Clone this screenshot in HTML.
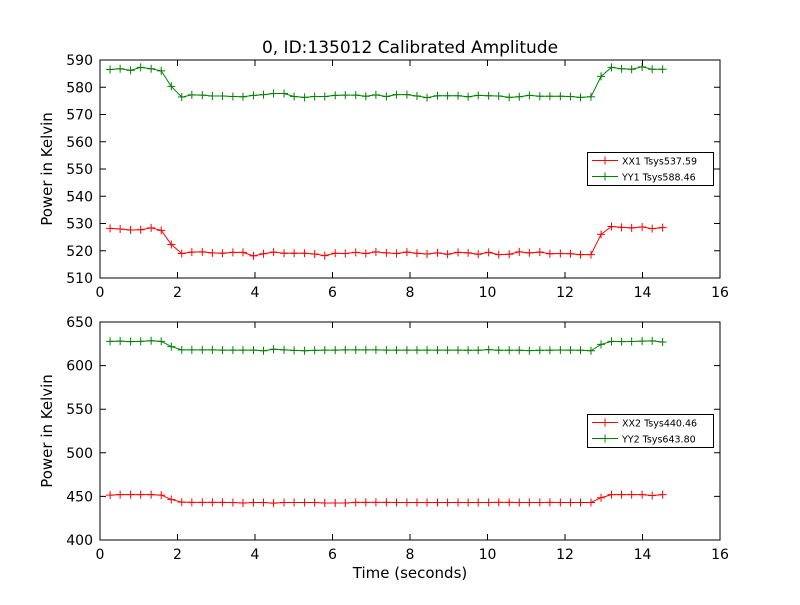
<!DOCTYPE html>
<html><head><meta charset="utf-8"><style>
body{margin:0;background:#fff}
text{font-family:"DejaVu Sans","Liberation Sans",sans-serif}
</style></head><body>
<svg id="c" width="800" height="600" xmlns="http://www.w3.org/2000/svg">
<rect width="800" height="600" fill="#fff"/>
<text x="410" y="53" font-size="17" text-anchor="middle">0, ID:135012 Calibrated Amplitude</text>
<text x="410" y="578" font-size="15" text-anchor="middle">Time (seconds)</text>
<g id="g"></g>
</svg>
<script>
const times=[0.26,0.52,0.79,1.05,1.32,1.58,1.84,2.11,2.37,2.64,2.90,3.16,3.43,3.69,3.96,4.22,4.48,4.75,5.01,5.28,5.54,5.80,6.07,6.33,6.60,6.86,7.12,7.39,7.65,7.92,8.18,8.44,8.71,8.97,9.24,9.50,9.76,10.03,10.29,10.56,10.82,11.08,11.35,11.61,11.88,12.14,12.40,12.67,12.93,13.20,13.46,13.72,13.99,14.25,14.52];
const xx1=[528.2,528,527.6,527.7,528.4,527.5,522.3,519,519.5,519.6,519.2,519.1,519.4,519.4,518.1,518.9,519.5,519.1,519.1,519.1,518.8,518.2,519.1,519.0,519.4,519.0,519.6,519.2,519.0,519.5,519.1,518.8,519.2,518.7,519.4,519.2,518.7,519.4,518.6,518.7,519.6,519.2,519.5,518.9,519.0,518.9,518.6,518.6,526,528.9,528.6,528.4,528.7,528.1,528.5];
const yy1=[586.5,586.8,586.2,587.3,586.8,586,580.3,576.4,577.2,577.1,576.8,576.8,576.6,576.5,577.0,577.3,577.7,577.7,576.6,576.3,576.6,576.6,577.0,577.1,577.1,576.7,577.2,576.6,577.3,577.3,576.8,576.2,576.9,576.9,576.9,576.5,577.0,576.9,576.8,576.3,576.5,577.0,576.7,576.7,576.7,576.6,576.3,576.5,584,587.3,586.8,586.6,587.5,586.6,586.6];
const xx2=[451.5,452,452,452,452,451.5,446.5,443.5,443.2,443.2,443.2,443.2,443,442.5,443,443,442.3,443,443,443,443,442.4,442.4,442.5,443.1,443.1,443.1,443.2,443,443,443,443,443,443,443,443,443,443,443.2,443.1,443,443,443,443.1,443,443,443,443,448.5,452,452,452,452,451,452];
const yy2=[627.8,628,627.5,627.8,628.5,627.8,621.8,618,618,618,618,617.8,617.8,617.7,617.8,617,618.7,618,617.5,617,617.5,617.7,617.8,618,618,618,618,617.8,617.8,617.8,617.8,617.8,617.7,617.8,617.8,617.6,617.6,618.3,617.6,617.6,617.6,617.2,617.6,617.6,617.9,617.8,617.6,617,624.3,627.8,627.5,627.6,628,628.3,627];
const xTicks=[0,2,4,6,8,10,12,14,16];
const topYTicks=[510,520,530,540,550,560,570,580,590];
const botYTicks=[400,450,500,550,600,650];
const NS="http://www.w3.org/2000/svg";
const G=document.getElementById('g');
function mk(t,a,p){const e=document.createElementNS(NS,t);for(const k in a)e.setAttribute(k,a[k]);(p||G).appendChild(e);return e;}
function panel(top,bot,ymin,ymax,yt,s1,s2,n1,n2,name){
  const L=100,R=720;
  const xs=v=>L+(v-0)/16*(R-L);
  const ys=v=>bot-(v-ymin)/(ymax-ymin)*(bot-top);
  const g=mk('g',{});
  
  
  [[s1,'#ff0000',n1],[s2,'#008000',n2]].forEach(([s,c,n])=>{
    const pts=s.map((v,i)=>xs(times[i])+','+ys(v)).join(' ');
    const pl=mk('polyline',{points:pts,fill:'none',stroke:c,'stroke-width':1},g);
    
    
    s.forEach((v,i)=>{const x=xs(times[i]),y=ys(v);
      const m=mk('path',{d:`M${x-4},${y}H${x+4}M${x},${y-4}V${y+4}`,stroke:c,'stroke-width':1},g);
      
      });
  });
  const fr=mk('rect',{x:L,y:top,width:R-L,height:bot-top,fill:'none',stroke:'#000','stroke-width':1},g);
  
  
  xTicks.forEach(t=>{const x=xs(t);
    mk('path',{d:`M${x},${bot}v-6M${x},${top}v6`,stroke:'#000'},g);
    const tx=mk('text',{x:x,y:bot+19,'font-size':14,'text-anchor':'middle'},g);tx.textContent=t;
    
    });
  yt.forEach(t=>{const y=ys(t);
    mk('path',{d:`M${L},${y}h6M${R},${y}h-6`,stroke:'#000'},g);
    const tx=mk('text',{x:L-7,y:y+5,'font-size':14,'text-anchor':'end'},g);tx.textContent=t;
    
    });
  const yl=mk('text',{x:57,y:(top+bot)/2,'font-size':15,'text-anchor':'middle',transform:`rotate(-90 57 ${(top+bot)/2})`},g);
  yl.setAttribute('x',52);
  yl.setAttribute('transform',`rotate(-90 52 ${(top+bot)/2})`);
  yl.textContent='Power in Kelvin';
  
  
  return {g,top,bot};
}
function legend(g,y0,l1,l2){
  const lg=mk('g',{},g);
  
  
  mk('rect',{x:587.5,y:y0+0.5,width:126,height:33,fill:'#fff',stroke:'#000'},lg);
  [[l1,'#ff0000',y0+8.5],[l2,'#008000',y0+24.5]].forEach(([t,c,y])=>{
    const e=mk('g',{},lg);
    
    
    mk('path',{d:`M592,${y}h26M605,${y-4}v8M601,${y}h8`,stroke:c},e);
    const tx=mk('text',{x:622,y:y+4,'font-size':9.5},e);tx.textContent=t;});
}
const p1=panel(60,278,510,590,topYTicks,xx1,yy1,'xx1','yy1','top-panel');
legend(p1.g,152,'XX1 Tsys537.59','YY1 Tsys588.46');
const p2=panel(322,540,400,650,botYTicks,xx2,yy2,'xx2','yy2','bottom-panel');
legend(p2.g,414,'XX2 Tsys440.46','YY2 Tsys643.80');
</script>
</body></html>
